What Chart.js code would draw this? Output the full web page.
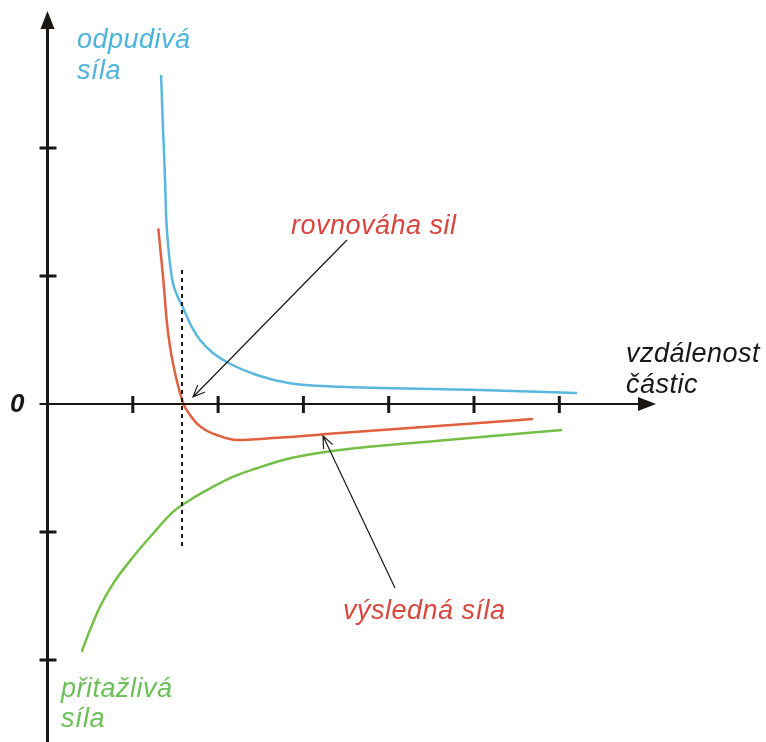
<!DOCTYPE html>
<html>
<head>
<meta charset="utf-8">
<script src="https://cdn.jsdelivr.net/npm/chart.js@4"></script>
<style>
	html, body { margin: 0; padding: 0; background: #fff; }
	#wrap { width: 766px; height: 742px; }
</style>
</head>
<body>
<div id="wrap"><canvas id="forces"></canvas></div>
<script>
// vzdálenost částic (x) a síla (y)
const repulsiveX = [1.331, 1.354, 1.378, 1.389, 1.416, 1.463, 1.518, 1.585, 1.691, 1.788, 1.940, 2.101, 2.453, 2.843, 3.429, 3.898, 5.070, 6.208];
const repulsiveY = [2.570, 2.156, 1.750, 1.492, 1.227, 0.969, 0.852, 0.758, 0.602, 0.500, 0.398, 0.328, 0.227, 0.162, 0.135, 0.125, 0.109, 0.086];

const resultX = [1.299, 1.327, 1.358, 1.397, 1.436, 1.495, 1.592, 1.671, 1.749, 1.866, 1.984, 2.218, 2.644, 3.429, 5.692];
const resultY = [1.373, 1.180, 0.969, 0.656, 0.448, 0.242, 0.005, -0.086, -0.151, -0.209, -0.242, -0.281, -0.266, -0.227, -0.117];

const attractiveX = [0.401, 0.498, 0.615, 0.771, 1.006, 1.240, 1.475, 1.671, 1.944, 2.178, 2.453, 2.843, 3.429, 4.684, 6.032];
const attractiveY = [-1.935, -1.766, -1.584, -1.401, -1.193, -1.010, -0.841, -0.750, -0.646, -0.568, -0.502, -0.424, -0.359, -0.281, -0.203];

const xTicks = [1, 2, 3, 4, 5, 6];
const yTicks = [2, 1, -1, -2];
const equilibriumX = 1.589;

const toPoints = (xs, ys) => xs.map((x, i) => ({ x, y: ys[i] }));

const BLUE = "#5ab8e0";
const RED = "#e0603e";
const GREEN = "#74c046";

// osy, popisky a šipky kreslené přes škály grafu
const schemePlugin = {
	id: "scheme",
	afterDatasetsDraw(chart) {
		const { ctx, scales } = chart;
		const px = (v) => scales.x.getPixelForValue(v);
		const py = (v) => scales.y.getPixelForValue(v);
		const x0 = px(0), y0 = py(0);

		ctx.save();
		ctx.strokeStyle = "#1a1715";
		ctx.fillStyle = "#1a1715";

		// svislá osa
		ctx.lineWidth = 3;
		ctx.beginPath();
		ctx.moveTo(x0, 742);
		ctx.lineTo(x0, 26);
		ctx.stroke();
		ctx.beginPath();
		ctx.moveTo(x0, 11);
		ctx.lineTo(x0 - 7, 29);
		ctx.lineTo(x0 + 7, 29);
		ctx.closePath();
		ctx.fill();

		// vodorovná osa
		ctx.lineWidth = 2;
		ctx.beginPath();
		ctx.moveTo(x0 - 8, y0);
		ctx.lineTo(640, y0);
		ctx.stroke();
		ctx.beginPath();
		ctx.moveTo(656, y0);
		ctx.lineTo(638, y0 - 7);
		ctx.lineTo(638, y0 + 7);
		ctx.closePath();
		ctx.fill();

		// značky
		ctx.lineWidth = 3;
		xTicks.forEach((t) => {
			ctx.beginPath();
			ctx.moveTo(px(t), y0 - 8);
			ctx.lineTo(px(t), y0 + 9);
			ctx.stroke();
		});
		yTicks.forEach((t) => {
			ctx.beginPath();
			ctx.moveTo(x0 - 8, py(t));
			ctx.lineTo(x0 + 9, py(t));
			ctx.stroke();
		});

		// rovnovážná vzdálenost
		ctx.lineWidth = 2;
		ctx.setLineDash([4, 4]);
		ctx.beginPath();
		ctx.moveTo(px(equilibriumX) - 1, py(1.047));
		ctx.lineTo(px(equilibriumX) - 1, py(-1.125));
		ctx.stroke();
		ctx.setLineDash([]);

		// šipky k popiskům
		const arrow = (fx, fy, tx, ty) => {
			const ax = px(fx), ay = py(fy), bx = px(tx), by = py(ty);
			const ang = Math.atan2(by - ay, bx - ax);
			ctx.lineWidth = 1.2;
			ctx.beginPath();
			ctx.moveTo(ax, ay);
			ctx.lineTo(bx, by);
			ctx.moveTo(bx - 13 * Math.cos(ang - 0.4), by - 13 * Math.sin(ang - 0.4));
			ctx.lineTo(bx, by);
			ctx.lineTo(bx - 13 * Math.cos(ang + 0.4), by - 13 * Math.sin(ang + 0.4));
			ctx.stroke();
		};
		arrow(3.511, 1.281, 1.706, 0.055);
		arrow(4.074, -1.4375, 3.230, -0.25);

		// texty
		const font = "italic 27px 'Liberation Sans', Arial, sans-serif";
		const text = (s, x, y, color, f) => {
			ctx.font = f || font;
			ctx.letterSpacing = f ? "0px" : "0.5px";
			ctx.fillStyle = color;
			ctx.textBaseline = "alphabetic";
			ctx.fillText(s, x, y);
		};
		text("odpudivá", 77, 48, "#4db4dc");
		text("síla", 77, 79, "#4db4dc");
		text("rovnováha sil", 291, 234, "#d9463f");
		text("vzdálenost", 626, 362, "#1a1715");
		text("částic", 626, 393, "#1a1715");
		text("výsledná síla", 343, 619, "#d9483e");
		text("přitažlivá", 61, 697, "#6cc05a");
		text("síla", 61, 727, "#6cc05a");
		text("0", 10, 412, "#1a1715", "italic bold 26px 'Liberation Sans', Arial, sans-serif");

		ctx.restore();
	},
};

new Chart(document.getElementById("forces"), {
	type: "scatter",
	data: {
		datasets: [
			{ label: "odpudivá síla", data: toPoints(repulsiveX, repulsiveY), borderColor: BLUE },
			{ label: "výsledná síla", data: toPoints(resultX, resultY), borderColor: RED },
			{ label: "přitažlivá síla", data: toPoints(attractiveX, attractiveY), borderColor: GREEN },
		].map((d) => ({
			...d,
			showLine: true,
			borderWidth: 2.5,
			pointRadius: 0,
			cubicInterpolationMode: "monotone",
		})),
	},
	options: {
		responsive: true,
		maintainAspectRatio: false,
		animation: false,
		layout: { padding: 0 },
		plugins: { legend: { display: false }, tooltip: { enabled: false } },
		scales: {
			x: { type: "linear", display: false, min: -0.5569, max: 8.4232 },
			y: { type: "linear", display: false, min: -2.640625, max: 3.15625 },
		},
	},
	plugins: [schemePlugin],
});
</script>
</body>
</html>
